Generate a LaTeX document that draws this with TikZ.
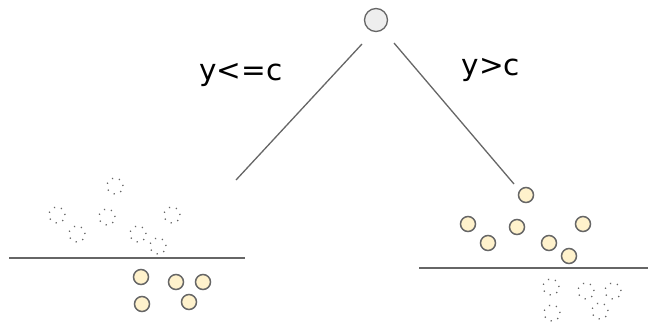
\documentclass[tikz,border=0pt]{standalone}
\usepackage{fontspec}
\setmainfont{DejaVu Sans}
\definecolor{edgegray}{HTML}{666666}
\definecolor{rootfill}{HTML}{EEEEEE}
\definecolor{pointfill}{HTML}{FFF2CC}
\tikzset{
  solidpt/.style={circle,draw=edgegray,fill=pointfill,line width=1.5pt,minimum size=15pt,inner sep=0pt},
  hollowpt/.style={circle,draw=edgegray,line width=1.3pt,dash pattern=on 1.2pt off 6pt,minimum size=16pt,inner sep=0pt},
  branch/.style={draw=edgegray,line width=1.3pt},
  split/.style={draw=edgegray,line width=1.8pt},
  cond/.style={font=\fontsize{29.5}{34}\selectfont}
}
\begin{document}
\begin{tikzpicture}[x=1pt,y=-1pt]
\useasboundingbox (0,0) rectangle (648,322);
\node[circle,draw=edgegray,fill=rootfill,line width=1.3pt,minimum size=23pt,inner sep=0pt] (root) at (376,20) {};
\coordinate (lfrom) at (362,44);
\coordinate (lto) at (236,180);
\coordinate (rfrom) at (394,43);
\coordinate (rto) at (514,184);
\draw[branch] (lfrom) -- (lto);
\draw[branch] (rfrom) -- (rto);
\node[cond] (lcond) at (241,75) {y<=c};
\node[cond] (rcond) at (491,70) {y>c};
% left leaf
\coordinate (lsa) at (9,258);
\coordinate (lsb) at (245,258);
\draw[split] (lsa) -- (lsb);
\foreach \x/\y [count=\i] in {115/186,57/215,77/234,107/217,172/215,138/234,158/246}
  \node[hollowpt] (lh\i) at (\x,\y) {};
\foreach \x/\y [count=\i] in {141/277,176/282,203/282,142/304,189/302}
  \node[solidpt] (ls\i) at (\x,\y) {};
% right leaf
\coordinate (rsa) at (419,268);
\coordinate (rsb) at (648,268);
\draw[split] (rsa) -- (rsb);
\foreach \x/\y [count=\i] in {526/195,468/224,488/243,517/227,583/224,549/243,569/256}
  \node[solidpt] (rs\i) at (\x,\y) {};
\foreach \x/\y [count=\i] in {551/287,586/291,613/291,552/313,600/311}
  \node[hollowpt] (rh\i) at (\x,\y) {};
\end{tikzpicture}
\end{document}
